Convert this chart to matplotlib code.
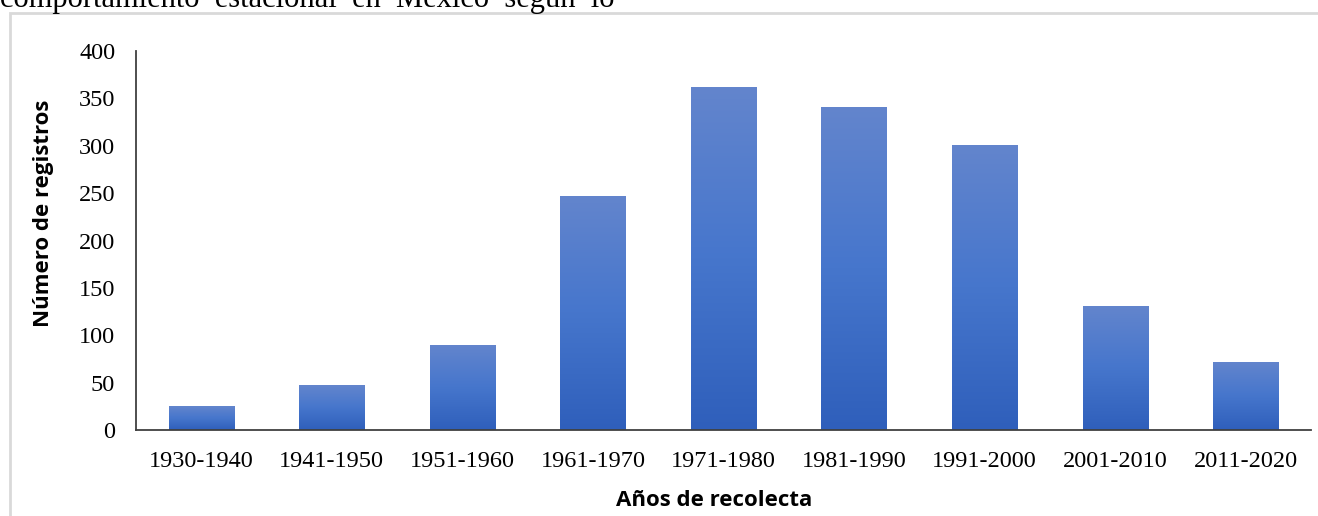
import matplotlib
matplotlib.use("Agg")
import matplotlib.pyplot as plt
from matplotlib.patches import Rectangle
import numpy as np

# data
periodos = ["1930-1940", "1941-1950", "1951-1960", "1961-1970", "1971-1980",
            "1981-1990", "1991-2000", "2001-2010", "2011-2020"]
registros = [25, 47, 90, 247, 362, 341, 301, 131, 72]
y_ticks = [0, 50, 100, 150, 200, 250, 300, 350, 400]

W, H = 1318, 516
fig = plt.figure(figsize=(W / 100, H / 100), dpi=100)
ax = fig.add_axes([136 / W, 1 - 430 / H, (1311 - 136) / W, (430 - 51) / H])

x = np.arange(len(periodos))
bars = ax.bar(x, registros, width=0.5, color="none", edgecolor="none", zorder=2)

# vertical gradient inside each bar (light top, darker bottom)
grad = np.linspace(0, 1, 256).reshape(-1, 1)
cmap = matplotlib.colors.LinearSegmentedColormap.from_list(
    "blu", ["#2f5fbb", "#4676cc", "#6385cd"])
for b in bars:
    x0, w, h = b.get_x(), b.get_width(), b.get_height()
    im = ax.imshow(grad, cmap=cmap, aspect="auto", origin="lower",
                   extent=[x0, x0 + w, 0, h], zorder=2)
    im.set_clip_path(b)

ax.set_xlim(-0.5, len(periodos) - 0.5)
ax.set_ylim(0, 400)
ax.set_xticks(x)
ax.set_xticklabels(periodos)
ax.set_yticks(y_ticks)

for s in ["top", "right"]:
    ax.spines[s].set_visible(False)
for s in ["left", "bottom"]:
    ax.spines[s].set_color("#404040")
    ax.spines[s].set_linewidth(1.3)
ax.tick_params(length=0, labelsize=17.5, colors="black")
ax.tick_params(axis="x", pad=15)
ax.tick_params(axis="y", pad=15)
for lab in ax.get_xticklabels() + ax.get_yticklabels():
    lab.set_fontfamily("Liberation Serif")

fig.text(44 / W, 1 - 213 / H, "Número de registros", rotation=90,
         ha="center", va="center", fontsize=16, fontweight="bold",
         family="Open Sans")
fig.text(714 / W, 1 - 500 / H, "Años de recolecta", ha="center",
         va="center", fontsize=16, fontweight="bold", family="Open Sans")

# cropped text line above the chart and the chart frame
fig.text(0, 1 - 6.5 / H, "comportamiento  estacional  en  México  según  lo",
         ha="left", va="baseline", fontsize=22, family="Liberation Serif")
fig.patches.append(Rectangle((10 / W, -0.1), 1.2, 1 - 13 / H + 0.1,
                             transform=fig.transFigure, fill=False,
                             edgecolor="#d9d9d9", linewidth=2))

fig.savefig("out.png", dpi=100)
